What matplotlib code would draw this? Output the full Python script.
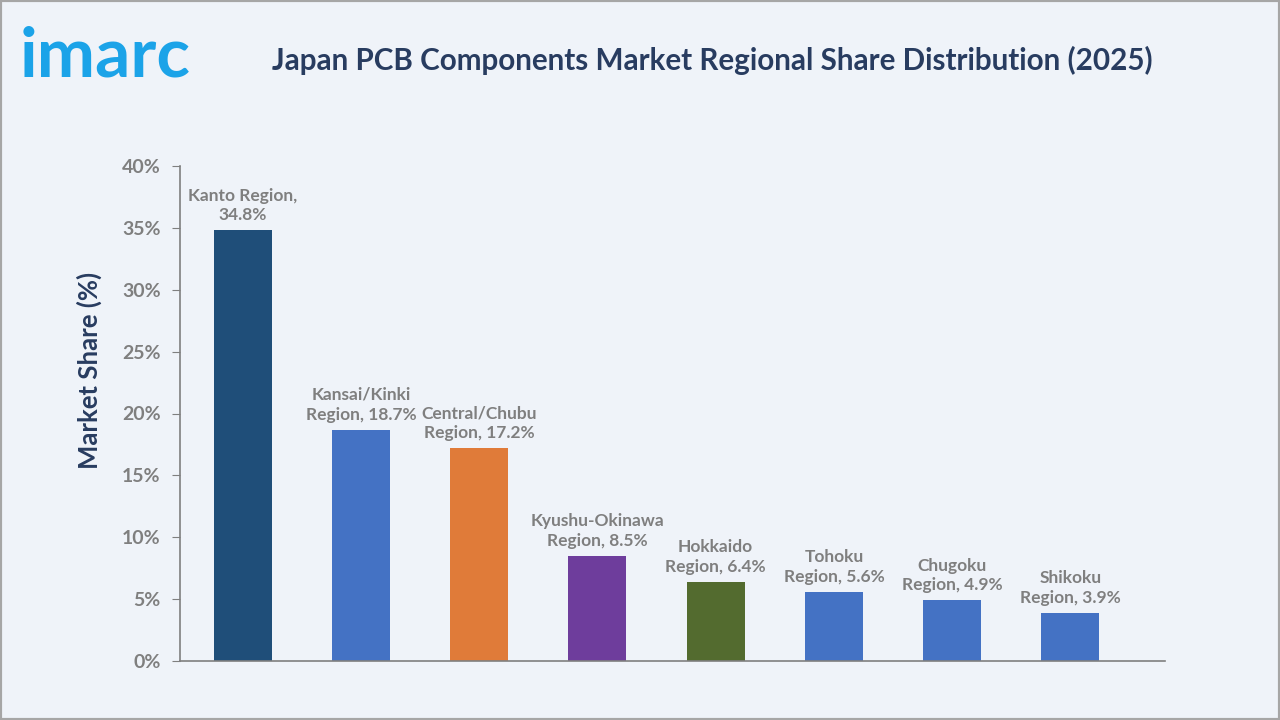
import matplotlib.pyplot as plt
from matplotlib.patches import Rectangle

# dados
regioes = ['Kanto Region', 'Kansai/Kinki Region', 'Central/Chubu Region', 'Kyushu-Okinawa Region',
           'Hokkaido Region', 'Tohoku Region', 'Chugoku Region', 'Shikoku Region']
rotulos = ['Kanto Region,\n34.8%', 'Kansai/Kinki\nRegion, 18.7%', 'Central/Chubu\nRegion, 17.2%',
           'Kyushu-Okinawa\nRegion, 8.5%', 'Hokkaido\nRegion, 6.4%', 'Tohoku\nRegion, 5.6%',
           'Chugoku\nRegion, 4.9%', 'Shikoku\nRegion, 3.9%']
share = [34.8, 18.7, 17.2, 8.5, 6.4, 5.6, 4.9, 3.9]
cores = ['#1F4E79', '#4472C4', '#E07B39', '#6E3D9C', '#536B2F', '#4472C4', '#4472C4', '#4472C4']
yticks = [0, 5, 10, 15, 20, 25, 30, 35, 40]

bg = '#EFF3F9'
cinza = '#7F7F7F'
navy = '#283C60'

plt.rcParams['font.family'] = ['Lato', 'DejaVu Sans']

fig = plt.figure(figsize=(12.8, 7.2), dpi=100, facecolor=bg)
# moldura cinza
fig.patches.append(Rectangle((0, 0), 1, 1, transform=fig.transFigure, fill=False,
                             edgecolor='#A6A6A6', linewidth=3))

ax = fig.add_axes([180/1280, 1 - 661/720, 985/1280, 495/720])
ax.set_facecolor(bg)

x = list(range(len(share)))
ax.bar(x, share, width=0.49, color=cores, zorder=2)

for xi, v, lab in zip(x, share, rotulos):
    ax.annotate(lab, (xi, v), xytext=(0, 5), textcoords='offset points', ha='center', va='bottom',
                fontsize=12.5, fontweight='bold', color=cinza, linespacing=1.3)

ax.set_xlim(-0.53, 7.8)
ax.set_ylim(0, 40)
ax.set_yticks(yticks)
ax.set_yticklabels([f'{t}%' for t in yticks], fontsize=14, fontweight='bold', color=cinza)
ax.set_xticks([])
ax.tick_params(axis='y', direction='out', length=6, color=cinza, pad=8)

for s in ['top', 'right']:
    ax.spines[s].set_visible(False)
for s in ['left', 'bottom']:
    ax.spines[s].set_color(cinza)
    ax.spines[s].set_linewidth(1.2)

# rótulo do eixo y posicionado à mão, como na referência
fig.text(89/1280, 1 - 370/720, 'Market Share (%)', rotation=90, ha='center', va='center',
         fontsize=18.5, fontweight='bold', color=navy)

fig.text(712/1280, 1 - 60/720, 'Japan PCB Components Market Regional Share Distribution (2025)',
         ha='center', va='center', fontsize=21.3, fontweight='bold', color=navy)

# logo imarc
fig.text(20/1280, 1 - 57/720, 'imarc', ha='left', va='center', fontsize=50, fontweight='bold',
         color='#1BA3E8')

fig.savefig('out.png', dpi=100, facecolor=bg)
